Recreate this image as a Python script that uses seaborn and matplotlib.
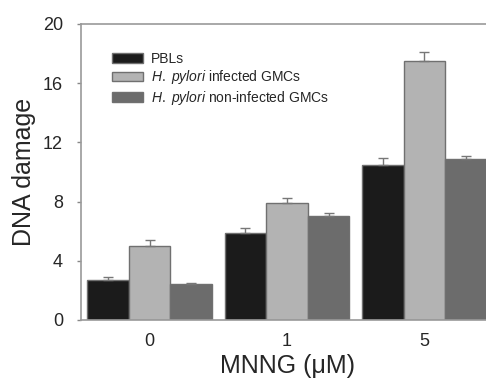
import numpy as np
import pandas as pd
import matplotlib
matplotlib.use("Agg")
import matplotlib.pyplot as plt
import seaborn as sns

doses = ["0", "1", "5"]
groups = ["PBLs", "H. pylori infected GMCs", "H. pylori non-infected GMCs"]
pbl = [2.7, 5.9, 10.5]
infected = [5.0, 7.9, 17.5]
noninfected = [2.4, 7.0, 10.85]
pbl_err = [0.2, 0.3, 0.45]
infected_err = [0.4, 0.35, 0.6]
noninfected_err = [0.12, 0.22, 0.25]
colors = ["#1b1b1b", "#b3b3b3", "#6c6c6c"]
legend_labels = [
    "PBLs",
    r"$\it{H.\ pylori}$ infected GMCs",
    r"$\it{H.\ pylori}$ non-infected GMCs",
]

sns.set_style("white")
plt.rcParams["font.family"] = ["Liberation Sans", "DejaVu Sans"]
plt.rcParams["mathtext.fontset"] = "custom"
plt.rcParams["mathtext.it"] = "Liberation Sans:italic"
plt.rcParams["mathtext.rm"] = "Liberation Sans"

df = pd.DataFrame({
    "dose": doses * 3,
    "group": [g for g in groups for _ in doses],
    "value": pbl + infected + noninfected,
})
errs = [pbl_err, infected_err, noninfected_err]

fig = plt.figure(figsize=(4.86, 3.81), dpi=100)
ax = fig.add_axes([81 / 486, 61 / 381, 412 / 486, 296 / 381])

sns.barplot(data=df, x="dose", y="value", hue="group", order=doses,
            hue_order=groups, palette=colors, width=0.907, errorbar=None,
            edgecolor="#707070", linewidth=1.0, ax=ax, saturation=1)

for cont, err in zip(ax.containers, errs):
    xs = [p.get_x() + p.get_width() / 2 for p in cont.patches]
    hs = [p.get_height() for p in cont.patches]
    ax.errorbar(xs, hs, yerr=[np.zeros(len(err)), err], fmt="none",
                ecolor="#777777", elinewidth=1.0, capsize=3.5, capthick=1.0)

ax.set_xlim(-0.5, 2.5)
ax.set_ylim(0, 20)
ax.set_yticks([0, 4, 8, 12, 16, 20])
ax.set_xlabel("MNNG (\u03bcM)", fontsize=18, labelpad=3)
ax.set_ylabel("DNA damage", fontsize=18, labelpad=5)
ax.tick_params(axis="y", labelsize=13, length=3, width=1, color="#888888",
               direction="out", pad=10, left=True)
ax.tick_params(axis="x", labelsize=13, length=0, pad=9)

for side in ["left", "bottom", "top"]:
    ax.spines[side].set_visible(True)
    ax.spines[side].set_color("#999999")
    ax.spines[side].set_linewidth(1.2)
ax.spines["right"].set_visible(False)

handles, _ = ax.get_legend_handles_labels()
leg = ax.legend(handles, legend_labels, loc="upper left",
                bbox_to_anchor=(112 / 486, 1 - 52 / 381),
                bbox_transform=fig.transFigure, frameon=False, fontsize=10,
                handlelength=2.25, handleheight=0.65, handletextpad=0.55,
                labelspacing=0.18, borderaxespad=0, borderpad=0)
for h in leg.legend_handles:
    h.set_edgecolor("#707070")

fig.savefig("out.png", dpi=100)
